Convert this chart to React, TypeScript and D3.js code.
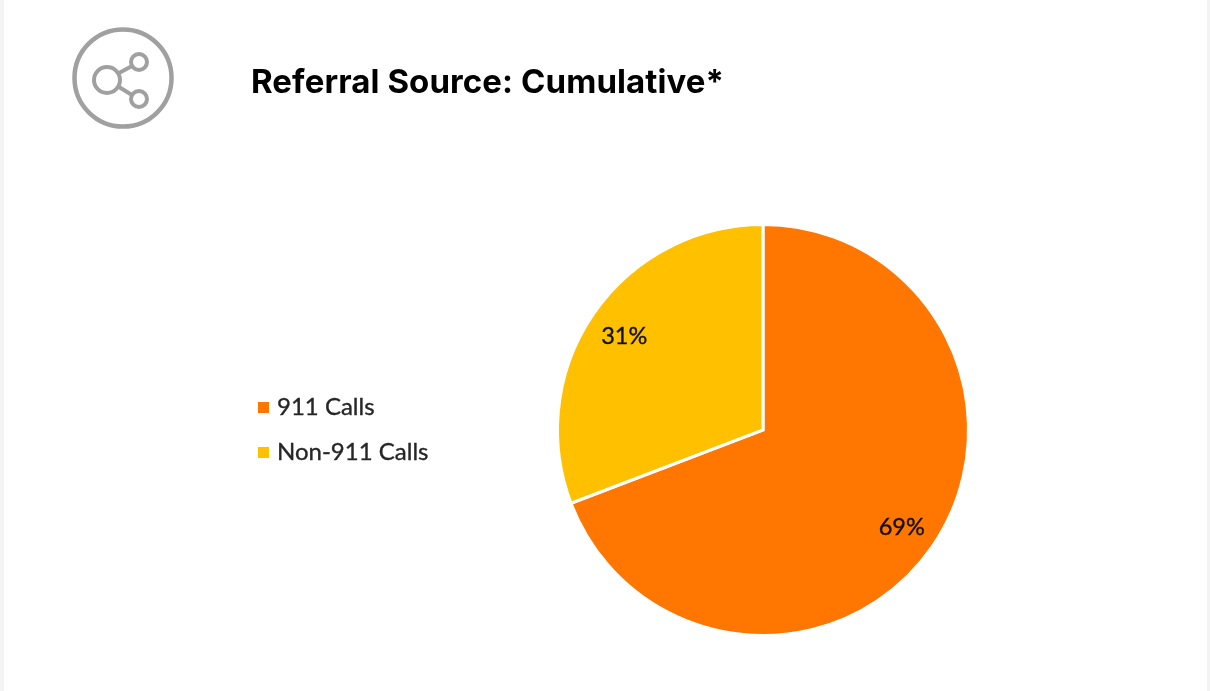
// App.tsx
import { useEffect, useRef } from 'react';
import * as d3 from 'd3';

const categories = ['911 Calls', 'Non-911 Calls'];
const shares = [69.2, 30.8];
const sliceColors = ['#ff7600', '#ffc000'];
const chartTitle = 'Referral Source: Cumulative*';

const WIDTH = 1210;
const HEIGHT = 691;

export default function App() {
  const ref = useRef<SVGSVGElement | null>(null);

  useEffect(() => {
    document.body.style.margin = '0';
    const svg = d3.select(ref.current);
    svg.selectAll('*').remove();

    // page edges
    svg.append('rect').attr('width', WIDTH).attr('height', HEIGHT).attr('fill', '#f3f3f3');
    svg.append('rect').attr('x', 4).attr('width', WIDTH - 7).attr('height', HEIGHT).attr('fill', '#ffffff');

    const root = svg.append('g').style('filter', 'blur(0.6px)');

    // share icon
    const icon = root.append('g').attr('transform', 'translate(123,78)')
      .attr('fill', 'none').attr('stroke', '#a0a0a0').style('filter', 'blur(0.6px)');
    icon.append('circle').attr('r', 48.5).attr('stroke-width', 4.5);
    icon.append('circle').attr('cx', -16).attr('cy', 2).attr('r', 13).attr('stroke-width', 4);
    icon.append('circle').attr('cx', 16).attr('cy', -16).attr('r', 8).attr('stroke-width', 4);
    icon.append('circle').attr('cx', 16).attr('cy', 21).attr('r', 8).attr('stroke-width', 4);
    icon.append('line').attr('x1', -4).attr('y1', -5).attr('x2', 9).attr('y2', -12).attr('stroke-width', 4);
    icon.append('line').attr('x1', -4).attr('y1', 9).attr('x2', 9).attr('y2', 17).attr('stroke-width', 4);

    root.append('text')
      .attr('x', 251)
      .attr('y', 93)
      .attr('textLength', 473)
      .attr('lengthAdjust', 'spacing')
      .style('font-family', 'Inter, sans-serif')
      .style('font-size', '33px')
      .style('font-weight', '700')
      .attr('fill', '#000000')
      .text(chartTitle);

    // pie, first slice starts at 12 o'clock
    const radius = 205.5;
    const color = d3.scaleOrdinal<string, string>().domain(categories).range(sliceColors);
    const pie = d3.pie<number>().sort(null)(shares);
    const arc = d3.arc<d3.PieArcDatum<number>>().innerRadius(0).outerRadius(radius);
    const labelArc = d3.arc<d3.PieArcDatum<number>>().innerRadius(radius * 0.82).outerRadius(radius * 0.82);

    const chart = root.append('g').attr('transform', 'translate(763,430)');
    chart.selectAll('path')
      .data(pie)
      .enter()
      .append('path')
      .attr('d', arc)
      .attr('fill', (_, i) => color(categories[i]))
      .attr('stroke', '#ffffff')
      .attr('stroke-width', 3);

    chart.selectAll('text')
      .data(pie)
      .enter()
      .append('text')
      .attr('transform', d => `translate(${labelArc.centroid(d)})`)
      .attr('text-anchor', 'middle')
      .attr('dy', '0.4em')
      .style('font-family', 'Lato, sans-serif')
      .style('font-size', '23.5px')
      .attr('fill', '#111111')
      .attr('stroke', '#111111')
      .attr('stroke-width', 0.35)
      .text(d => `${Math.round(d.data)}%`);

    // legend
    const legendY = d3.scalePoint<string>().domain(categories).range([406, 451]);
    const legend = root.append('g');
    categories.forEach(name => {
      const y = legendY(name) as number;
      legend.append('rect')
        .attr('x', 258).attr('y', y - 4).attr('width', 11).attr('height', 11)
        .attr('fill', color(name));
      legend.append('text')
        .attr('x', 277).attr('y', y).attr('dy', '0.36em')
        .style('font-family', 'Lato, sans-serif')
        .style('font-size', '24px')
        .attr('fill', '#262626')
        .attr('stroke', '#262626')
        .attr('stroke-width', 0.35)
        .text(name);
    });
  }, []);

  return <svg ref={ref} width={WIDTH} height={HEIGHT} style={{ display: 'block' }} />;
}
